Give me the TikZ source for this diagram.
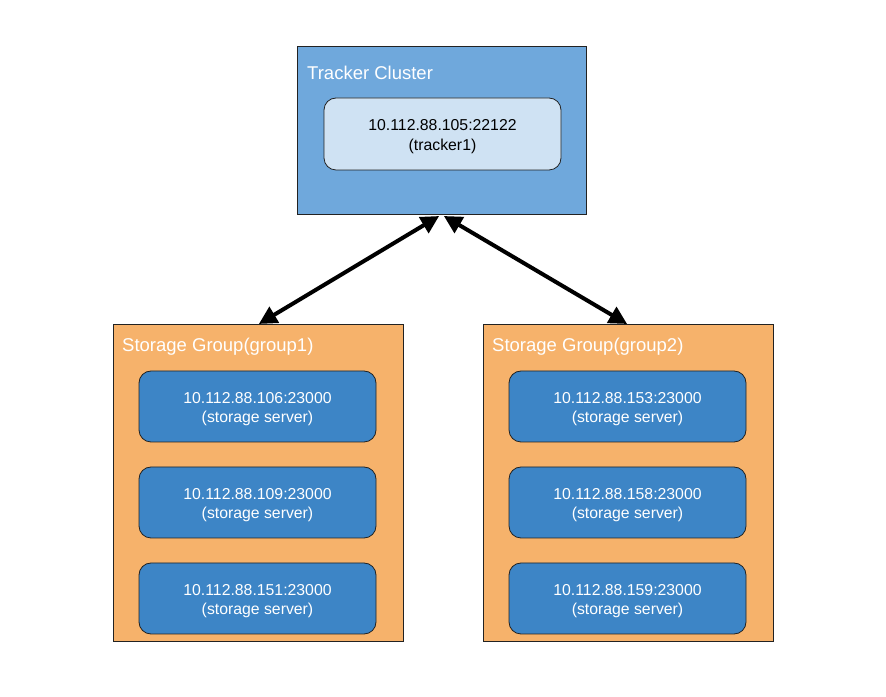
\documentclass[tikz,border=0pt]{standalone}
\usepackage{fontspec}
\setmainfont{Liberation Sans}
\usetikzlibrary{arrows.meta}
\definecolor{trackblue}{HTML}{6FA8DC}
\definecolor{lightblue}{HTML}{CFE2F3}
\definecolor{grouporange}{HTML}{F6B26B}
\definecolor{serverblue}{HTML}{3D85C6}
\definecolor{edge}{HTML}{222222}
\begin{document}
\begin{tikzpicture}
		[x=1pt,y=1pt,
		cluster/.style={rectangle,draw=edge,line width=1pt,fill=trackblue,minimum width=289pt,minimum height=168pt},
		group/.style={rectangle,draw=edge,line width=1pt,fill=grouporange,minimum width=290pt,minimum height=317pt},
		tracker/.style={rectangle,rounded corners=12pt,draw=edge,line width=0.8pt,fill=lightblue,minimum width=237pt,minimum height=72pt,align=center,font=\fontsize{15.8}{19.5}\selectfont},
		server/.style={tracker,fill=serverblue,text=white,minimum height=71pt},
		title/.style={anchor=west,text=white,inner sep=0pt,font=\fontsize{18.5}{22}\selectfont},
		link/.style={line width=4pt,{Triangle[length=18pt,width=18pt]}-{Triangle[length=18pt,width=18pt]},shorten <=1pt,shorten >=1pt}]
		\useasboundingbox (0,0) rectangle (886,696);
		\node[cluster,name=cl] at (441.5,565) {};
		\node[title,name=cltitle] at (307,623) {Tracker Cluster};
		\node[tracker,name=t1] at (442.5,562) {\rule{0pt}{16pt}10.112.88.105:22122\\(tracker1)};
		\node[group,name=g1] at (258,212.5) {};
		\node[title,name=g1title] at (122,349) {Storage Group(group1)};
		\node[server,name=s106] at (257.5,289.5) {\rule{0pt}{16pt}10.112.88.106:23000\\(storage server)};
		\node[server,name=s109] at (257.5,193.5) {\rule{0pt}{16pt}10.112.88.109:23000\\(storage server)};
		\node[server,name=s151] at (257.5,97.5) {\rule{0pt}{16pt}10.112.88.151:23000\\(storage server)};
		\node[group,name=g2] at (628,212.5) {};
		\node[title,name=g2title] at (492,349) {Storage Group(group2)};
		\node[server,name=s153] at (627.5,289.5) {\rule{0pt}{16pt}10.112.88.153:23000\\(storage server)};
		\node[server,name=s158] at (627.5,193.5) {\rule{0pt}{16pt}10.112.88.158:23000\\(storage server)};
		\node[server,name=s159] at (627.5,97.5) {\rule{0pt}{16pt}10.112.88.159:23000\\(storage server)};
		\draw[link] ([xshift=-1.5pt]cl.south) -- (g1.north);
		\draw[link] ([xshift=1.5pt]cl.south) -- (g2.north);
	\end{tikzpicture}
\end{document}
